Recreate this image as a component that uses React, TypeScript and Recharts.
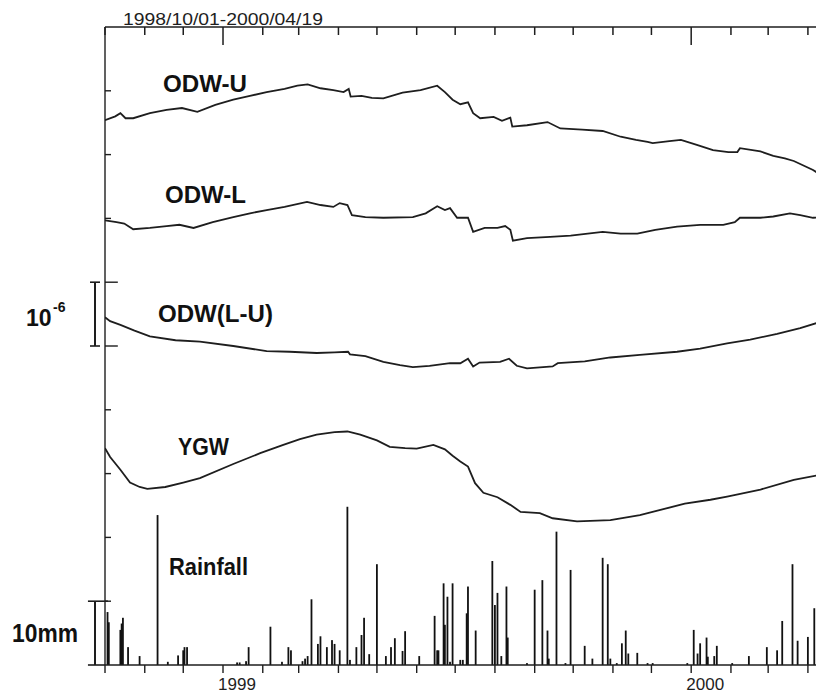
import React from 'react';
import { ComposedChart, Line, Bar, XAxis, YAxis, ReferenceLine } from 'recharts';

// x = days since 1998/10/01; strain levels in chart divisions (1 division = 10^-6)
const ODW_U: [number, number][] = [
  [0, 8.54], [8, 8.6], [12, 8.65], [16, 8.57], [22, 8.57], [35, 8.65], [48, 8.7], [60, 8.73],
  [72, 8.67], [86, 8.78], [100, 8.86], [113, 8.92], [126, 8.98], [140, 9.03], [150, 9.08],
  [158, 9.1], [168, 9.04], [178, 9.01], [186, 8.98], [190, 9.03], [191.5, 8.91], [200, 8.92],
  [208, 8.89], [217, 8.88], [232, 8.97], [246, 9.01], [259, 9.08], [265, 8.98], [271, 8.86],
  [277, 8.79], [283, 8.82], [287, 8.65], [292.5, 8.57], [303, 8.59], [309.5, 8.53], [316, 8.58],
  [317.5, 8.44], [329, 8.46], [345, 8.51], [355, 8.41], [372, 8.39], [388, 8.37], [402, 8.28],
  [414, 8.23], [423, 8.2], [427, 8.18], [440, 8.21], [449, 8.23], [462, 8.15], [474, 8.07],
  [486, 8.04], [493, 8.04], [495, 8.1], [511, 8.05], [521, 7.98], [530, 7.94], [537, 7.9],
  [552, 7.76], [560, 7.65], [566, 7.57],
];

const ODW_L: [number, number][] = [
  [0, 6.97], [9, 6.94], [15, 6.92], [22, 6.83], [35, 6.85], [48, 6.88], [58, 6.9], [69, 6.85],
  [84, 6.94], [100, 7.02], [113, 7.08], [126, 7.13], [140, 7.18], [157.5, 7.26], [168, 7.21],
  [178, 7.18], [183, 7.24], [189, 7.21], [192.5, 7.05], [203, 7.02], [217, 7.01], [240, 7.02],
  [250, 7.08], [259, 7.19], [265, 7.13], [269, 7.16], [274.5, 7.01], [283, 7.01], [287, 6.79],
  [296, 6.85], [306, 6.85], [312, 6.88], [316, 6.82], [318, 6.65], [329, 6.69], [347, 6.71],
  [363, 6.73], [388, 6.79], [402, 6.76], [415, 6.76], [429, 6.82], [446, 6.87], [464, 6.9],
  [482, 6.9], [491, 6.94], [495, 7.01], [511, 7.01], [521, 7.03], [534, 7.08], [542, 7.05],
  [552, 7.01], [560, 7.02], [566, 7.03],
];

const ODW_LU: [number, number][] = [
  [0, 5.45], [4, 5.39], [12, 5.33], [23, 5.24], [35, 5.15], [55, 5.09], [74, 5.07], [100, 5.0],
  [126, 4.92], [144, 4.91], [165, 4.89], [179, 4.9], [189.5, 4.91], [191, 4.87], [203, 4.84],
  [217, 4.75], [230, 4.7], [240, 4.67], [253, 4.69], [269, 4.73], [277, 4.73], [283, 4.8],
  [287, 4.68], [292, 4.74], [308, 4.75], [315, 4.8], [321, 4.69], [329, 4.65], [349, 4.68],
  [353, 4.73], [374, 4.76], [394, 4.82], [417, 4.86], [446, 4.91], [464, 4.96], [485, 5.04],
  [503, 5.1], [524, 5.19], [542, 5.28], [555, 5.36], [560, 5.42], [566, 5.48],
];

const YGW: [number, number][] = [
  [0, 3.4], [4, 3.26], [12, 3.06], [19.5, 2.86], [27, 2.79], [33, 2.76], [47, 2.79], [61, 2.86],
  [74, 2.93], [100, 3.15], [121, 3.32], [139, 3.45], [152, 3.54], [165, 3.61], [179, 3.65],
  [189, 3.66], [199, 3.61], [212, 3.52], [222, 3.42], [234, 3.4], [243, 3.39], [256, 3.45],
  [265, 3.38], [271, 3.28], [277, 3.19], [283, 3.11], [288.5, 2.85], [295, 2.7], [306, 2.63],
  [316, 2.51], [324, 2.4], [339, 2.38], [349, 2.3], [368, 2.25], [394, 2.27], [417, 2.35],
  [433, 2.43], [452, 2.53], [472, 2.59], [485, 2.64], [511, 2.75], [537, 2.9], [560, 2.99],
  [566, 3.01],
];

// daily rainfall, mm
const RAINFALL_MM: [number, number][] = [
  [2, 8.3], [3, 6.7], [12, 5.5], [13, 6.5], [14, 7.4], [18, 2.8], [27, 1.4], [41, 23.5],
  [49, 0.5], [57, 1.5], [61, 2.3], [62, 2.8], [64, 2.8], [103, 0.4], [105, 0.4], [110, 0.6],
  [112, 2.8], [129, 6.0], [138, 0.5], [143, 2.8], [145, 2.3], [154, 0.6], [156, 1.0], [158, 1.4],
  [161, 10.3], [166, 3.3], [168, 4.5], [173, 2.8], [177, 3.9], [179, 3.3], [183, 2.3],
  [189, 24.8], [191, 0.8], [196, 2.8], [200, 4.7], [202, 7.4], [206, 1.7], [212, 15.8],
  [219, 1.4], [223, 2.8], [226, 4.2], [232, 2.2], [234, 5.3], [245, 1.4], [257, 7.7], [259, 2.3],
  [260, 2.3], [264, 12.8], [265, 6.3], [267, 10.7], [269, 0.5], [271, 12.8], [277, 0.8],
  [279, 0.8], [282, 8.1], [283, 12.3], [289, 5.4], [302, 16.3], [304, 9.4], [306, 11.3],
  [309, 1.4], [313, 12.3], [314, 4.3], [329, 0.3], [335, 11.8], [341, 13.3], [345, 5.4],
  [346, 1.0], [352, 20.9], [359, 0.3], [363, 14.9], [374, 3.0], [380, 1.0], [388, 16.8],
  [392, 15.8], [394, 1.0], [399, 0.3], [403, 3.4], [406, 5.4], [408, 1.8], [415, 1.9],
  [423, 0.3], [427, 0.3], [454, 0.3], [459, 5.5], [462, 1.8], [464, 3.4], [469, 4.3], [470, 1.3],
  [475, 1.4], [477, 3.0], [489, 0.3], [502, 1.4], [516, 2.8], [524, 2.3], [528, 6.9],
  [536, 15.8], [540, 3.8], [548, 4.4], [553, 8.9], [560, 3.8],
];

// first day of each month, days since 1998/10/01
const MONTH_TICKS = [0, 31, 61, 92, 123, 151, 182, 212, 243, 273, 304, 335, 365, 396, 426, 457, 488, 517, 548];
const YEAR_LABELS: Record<number, string> = { 92: '1999', 457: '2000' };
const LEVEL_TICKS = [0, 1, 2, 3, 4, 5, 6, 7, 8, 9, 10];
const LAST_DAY = 566;

const INK = '#1e1e1e';
const FONT = '"Liberation Sans", Arial, Helvetica, sans-serif';

// plot box inside the chart svg (matches the margins below)
const PLOT_LEFT = 97;
const PLOT_TOP = 19;
const PLOT_WIDTH = 726;

function buildRows() {
  const rows = new Map<number, Record<string, number>>();
  const put = (key: string, pts: [number, number][]) => {
    pts.forEach(([day, v]) => {
      const row = rows.get(day) ?? { day };
      row[key] = v;
      rows.set(day, row);
    });
  };
  put('u', ODW_U);
  put('l', ODW_L);
  put('d', ODW_LU);
  put('y', YGW);
  put('rain', RAINFALL_MM);
  return [...rows.values()].sort((a, b) => a.day - b.day);
}

function BottomTick(props: any) {
  const { x, y, payload } = props;
  const label = YEAR_LABELS[payload.value];
  if (!label) return <g />;
  return (
    <text x={x + 14} y={y + 15} textAnchor="middle" fontSize={17} fontFamily={FONT} fill={INK}>
      {label}
    </text>
  );
}

// thin rain stick, centred on the day the library places the bar at
function RainStick(props: any) {
  const { x, y, width, height } = props;
  if (!height || height <= 0) return <g />;
  return <rect x={x + width / 2 - 0.9} y={y} width={1.8} height={height} fill="#111" />;
}

const lineProps = {
  xAxisId: 'b',
  yAxisId: 'lvl',
  type: 'linear' as const,
  stroke: INK,
  strokeWidth: 1.8,
  dot: false,
  connectNulls: true,
  isAnimationActive: false,
};

// short frame marks, drawn in data units of the axes
const seg = (key: string, x1: number, y1: number, x2: number, y2: number, axis = 'lvl', w = 1.4) => (
  <ReferenceLine key={key} xAxisId="b" yAxisId={axis} ifOverflow="visible" stroke={INK} strokeWidth={w}
    segment={[{ x: x1, y: y1 }, { x: x2, y: y2 }]} />
);

export default function App() {
  const rows = buildRows();
  const dayX = (d: number) => PLOT_LEFT + (d / LAST_DAY) * PLOT_WIDTH;
  const label = (text: string, x: number, y: number, len: number, size = 24) => (
    <text x={x} y={y} fontSize={size} fontWeight="bold" fontFamily={FONT} fill="#111"
      textLength={len} lengthAdjust="spacingAndGlyphs">
      {text}
    </text>
  );

  return (
    <div style={{ position: 'relative', width: 816, height: 685, overflow: 'hidden', background: '#fff' }}>
      <ComposedChart width={840} height={685} data={rows} margin={{ top: 19, right: 17, bottom: 1, left: 96 }}>
        <XAxis xAxisId="b" dataKey="day" type="number" domain={[0, LAST_DAY]} allowDataOverflow
          ticks={MONTH_TICKS} interval={0} height={27} tickSize={8} tickMargin={2}
          stroke={INK} strokeWidth={1.4} tick={(p: any) => <BottomTick {...p} />} />
        <YAxis yAxisId="lvl" domain={[0, 10]} ticks={LEVEL_TICKS} interval={0} width={1}
          tickLine={false} tick={false} stroke={INK} strokeWidth={1.4} />
        <YAxis yAxisId="rain" domain={[0, 100]} hide />

        <Bar xAxisId="b" yAxisId="rain" dataKey="rain" barSize={2} fill="#111"
          shape={(p: any) => <RainStick {...p} />} isAnimationActive={false} />
        <Line {...lineProps} dataKey="u" />
        <Line {...lineProps} dataKey="l" />
        <Line {...lineProps} dataKey="d" />
        <Line {...lineProps} dataKey="y" />

        {/* top frame */}
        {seg('top', 0, 10, LAST_DAY, 10)}
        {/* inner ticks on left and right frame */}
        {LEVEL_TICKS.slice(1, -1).map((v) => seg(`lt${v}`, 0, v, v === 5 || v === 6 ? 10 : 4.7, v))}
        {LEVEL_TICKS.slice(1, -1).map((v) => seg(`rt${v}`, LAST_DAY - 7, v, LAST_DAY, v))}

        {/* scale bar: 10^-6 strain */}
        {seg('sb1', -7.8, 5, -7.8, 6, 'lvl', 2)}
        {seg('sb2', -11.7, 6, -3.9, 6, 'lvl', 1.6)}
        {seg('sb3', -11.7, 5, -3.9, 5, 'lvl', 1.6)}
        {/* scale bar: 10 mm rainfall */}
        {seg('rb1', -7.8, 0, -7.8, 10, 'rain', 2)}
        {seg('rb2', -13.3, 10, 2.3, 10, 'rain', 1.6)}
        {seg('rb3', -13.3, 0, 0, 0, 'rain', 1.6)}
      </ComposedChart>

      <svg width={816} height={685} style={{ position: 'absolute', left: 0, top: 0, pointerEvents: 'none' }}>
        {/* month ticks hanging from the top frame, longer at the new year */}
        {MONTH_TICKS.map((d) => (
          <rect key={d} x={dayX(d) - 0.75} y={PLOT_TOP} width={1.5} height={YEAR_LABELS[d] ? 18 : 8} fill={INK} />
        ))}
        <text x={115} y={17} fontSize={17} fontFamily={FONT} fill={INK} textLength={200} lengthAdjust="spacingAndGlyphs">
          1998/10/01-2000/04/19
        </text>
        {label('ODW-U', 155, 84, 84)}
        {label('ODW-L', 157, 195, 81)}
        {label('ODW(L-U)', 150, 314, 115)}
        {label('YGW', 170, 447, 51, 23)}
        {label('Rainfall', 161, 567, 79)}
        <text x={18} y={318} fontSize={23} fontWeight="bold" fontFamily={FONT} fill="#111">10</text>
        <text x={45} y={304} fontSize={14} fontWeight="bold" fontFamily={FONT} fill="#111">-6</text>
        {label('10mm', 4, 634, 66, 25)}
      </svg>
    </div>
  );
}
